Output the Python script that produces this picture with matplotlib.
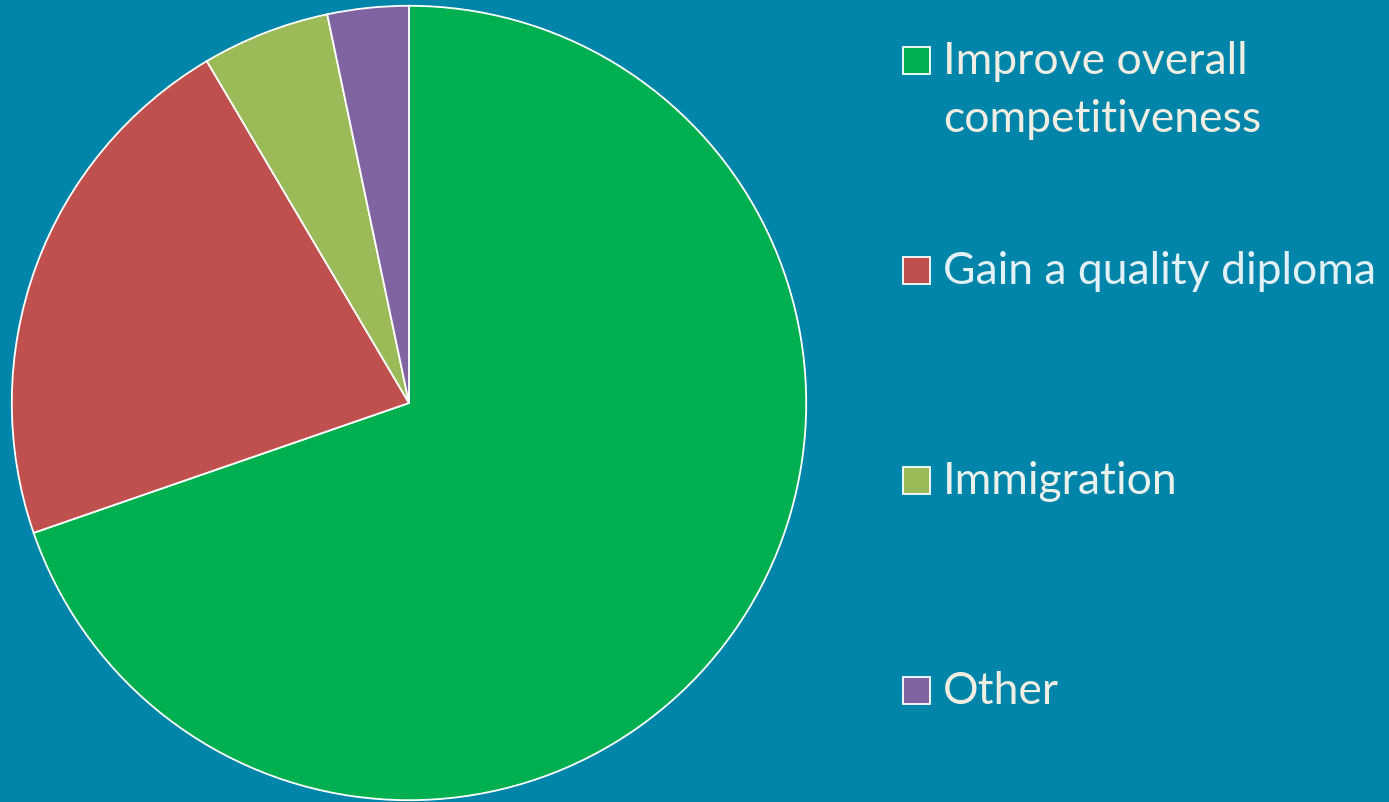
import matplotlib
matplotlib.use('Agg')
import matplotlib.pyplot as plt
from matplotlib.patches import Rectangle

labels = ['Improve overall\ncompetitiveness', 'Gain a quality diploma', 'Immigration', 'Other']
values = [69.7, 21.8, 5.2, 3.3]
colors = ['#00B050', '#C0504D', '#9BBB59', '#8064A2']
text_colors = ['#F0EDE2', '#E2F1F6', '#EAF1EC', '#F0EDE2']

bg = '#0085AA'
W, H = 1389, 802

fig = plt.figure(figsize=(W / 100, H / 100), dpi=100)
fig.patch.set_facecolor(bg)

ax = fig.add_axes([11 / W, 1 / H, 796 / W, 796 / H])
ax.set_facecolor(bg)
ax.pie(values, colors=colors, startangle=90, counterclock=False,
       wedgeprops=dict(edgecolor='white', linewidth=1.3), radius=1.0)
ax.set_xlim(-1.002, 1.002)
ax.set_ylim(-1.002, 1.002)
ax.set_aspect('equal')
ax.axis('off')

# legend drawn by hand so the box lines up with the first text line
baselines = [74, 284, 494, 704]
sq = 27
for lab, col, tcol, yb in zip(labels, colors, text_colors, baselines):
    fig.patches.append(Rectangle((903 / W, 1 - yb / H), sq / W, sq / H,
                                 transform=fig.transFigure, facecolor=col,
                                 edgecolor='white', linewidth=1.3))
    for i, line in enumerate(lab.split('\n')):
        fig.text(943 / W, 1 - (yb + i * 58) / H, line, color=tcol, fontsize=32,
                 family=['Lato', 'DejaVu Sans'], va='baseline', ha='left')

fig.savefig('out.png', dpi=100, facecolor=bg)
